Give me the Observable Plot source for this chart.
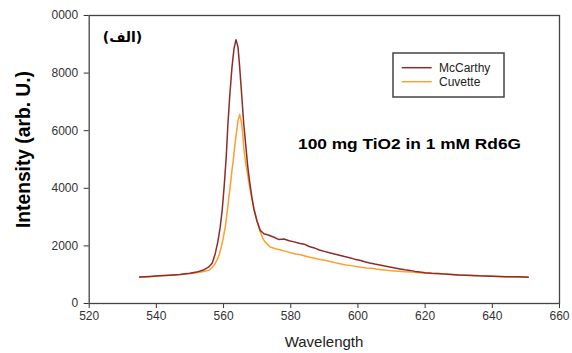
<!DOCTYPE html>
<html>
<head>
<meta charset="utf-8">
<script src="https://cdn.jsdelivr.net/npm/d3@7"></script>
<script src="https://cdn.jsdelivr.net/npm/@observablehq/plot@0.6"></script>
<style>
  html, body { margin: 0; padding: 0; background: #fff; }
  #chart svg { display: block; }
</style>
</head>
<body>
<div id="chart"></div>
<script>
// ---- data ----
const seriesNames = ["McCarthy", "Cuvette"];
const seriesColors = ["#8E2B2B", "#FF9F2E"];

const mcX = [535, 538, 541, 544, 547, 550, 552, 554, 555.5, 556.6, 557.5, 558.3, 559, 559.6, 560.2, 560.8, 561.3, 561.9, 562.5, 563.1, 563.7, 564.3, 564.8, 565.3, 566, 566.6, 567.2, 567.8, 568.4, 569, 569.9, 570.9, 572, 573.5, 575, 576.5, 578, 579.5, 581, 582.5, 584, 585.5, 587, 588.5, 590, 591.5, 593, 594.5, 596, 597.5, 599, 600.5, 602, 603.5, 605, 606.5, 608, 609.5, 611, 612.5, 614, 615.5, 617, 618.5, 620, 622, 624, 626, 628, 630, 632, 634, 636, 638, 640, 642, 644, 646, 648, 650.7];
const mcY = [920, 940, 960, 985, 1010, 1050, 1090, 1160, 1260, 1400, 1720, 2150, 2650, 3250, 4100, 5100, 6250, 7300, 8200, 8850, 9160, 8900, 8200, 7400, 6240, 5500, 4750, 4200, 3700, 3300, 2880, 2540, 2420, 2370, 2300, 2220, 2240, 2180, 2140, 2090, 2060, 1980, 1930, 1860, 1810, 1760, 1720, 1675, 1630, 1590, 1540, 1500, 1450, 1405, 1370, 1340, 1300, 1265, 1230, 1200, 1170, 1150, 1115, 1090, 1070, 1050, 1040, 1020, 1010, 990, 985, 975, 960, 955, 945, 940, 930, 930, 925, 915];

const cuX = [535, 538, 541, 544, 547, 550, 552, 554, 555.6, 556.6, 557.5, 558.2, 558.8, 559.6, 560.5, 561.1, 561.7, 562.1, 562.5, 563, 563.3, 563.8, 564.3, 564.8, 565.3, 565.7, 566, 566.5, 567, 567.6, 568.2, 569, 569.9, 570.9, 571.7, 572.4, 573.9, 575.5, 577, 578.5, 580, 581.5, 583, 584.5, 586, 587.5, 589, 590.5, 592, 593.5, 595, 596.5, 598, 599.5, 601, 602.5, 604, 605.5, 607, 608.5, 610, 612, 614, 616, 618, 620, 622, 624, 626, 628, 630, 632, 634, 636, 638, 640, 642, 644, 646, 648, 650.7];
const cuY = [910, 930, 960, 985, 1005, 1040, 1070, 1110, 1150, 1250, 1380, 1550, 1730, 2100, 2650, 3200, 3800, 4200, 4620, 5100, 5430, 5900, 6350, 6560, 6300, 5900, 5420, 4950, 4600, 4150, 3800, 3300, 2880, 2500, 2250, 2130, 1960, 1900, 1860, 1810, 1760, 1720, 1690, 1640, 1600, 1560, 1520, 1490, 1450, 1410, 1375, 1340, 1315, 1285, 1255, 1235, 1220, 1195, 1175, 1155, 1140, 1120, 1105, 1090, 1070, 1055, 1045, 1030, 1015, 1005, 990, 980, 970, 960, 952, 945, 938, 932, 928, 922, 915];

const xTicks = [520, 540, 560, 580, 600, 620, 640, 660];
const yTicks = [0, 2000, 4000, 6000, 8000, 10000];
const yTickLabels = ["0", "2000", "4000", "6000", "8000", "0000"];

const xLabel = "Wavelength";
const yLabel = "Intensity (arb. U.)";
const annotation = "100 mg TiO2 in 1 mM Rd6G";
const panelTag = "(الف)";

// ---- build table ----
const rows = [
  ...cuX.map((w, i) => ({series: "Cuvette", w, v: cuY[i]})),
  ...mcX.map((w, i) => ({series: "McCarthy", w, v: mcY[i]}))
];

const svg = Plot.plot({
  width: 572,
  height: 353,
  marginLeft: 88.7,
  marginRight: 13,
  marginTop: 15,
  marginBottom: 50,
  style: {fontFamily: "'Liberation Sans', Arial, sans-serif", fontSize: "12px", color: "#333", background: "#fff"},
  x: {domain: [520, 660], ticks: xTicks, tickFormat: d => String(d), tickSize: 5, tickPadding: 3, label: null},
  y: {domain: [0, 10000], ticks: yTicks, tickFormat: d => yTickLabels[yTicks.indexOf(d)], tickSize: 5, tickPadding: 6, label: null},
  color: {domain: seriesNames, range: seriesColors},
  marks: [
    Plot.line(rows, {x: "w", y: "v", z: "series", stroke: "series", strokeWidth: 1.5, curve: "linear"}),
    Plot.frame({stroke: "#444", strokeWidth: 1.3})
  ]
});

document.getElementById("chart").appendChild(svg);

// ---- extra text & legend ----
const s = d3.select(svg);
const font = "'Liberation Sans', Arial, sans-serif";

s.append("text")
  .attr("transform", "translate(29.5,149.5) rotate(-90)")
  .attr("text-anchor", "middle")
  .attr("font-family", font)
  .attr("font-weight", "bold")
  .attr("font-size", 21)
  .attr("fill", "#000")
  .attr("textLength", 157)
  .attr("lengthAdjust", "spacingAndGlyphs")
  .text(yLabel);

s.append("text")
  .attr("x", 324).attr("y", 346.5)
  .attr("text-anchor", "middle")
  .attr("font-family", font)
  .attr("font-size", 15)
  .attr("fill", "#222")
  .text(xLabel);

s.append("text")
  .attr("x", 298).attr("y", 149)
  .attr("text-anchor", "start")
  .attr("font-family", font)
  .attr("font-weight", "bold")
  .attr("font-size", 14)
  .attr("fill", "#000")
  .attr("textLength", 223)
  .attr("lengthAdjust", "spacingAndGlyphs")
  .text(annotation);

s.append("text")
  .attr("x", 122.5).attr("y", 42)
  .attr("text-anchor", "middle")
  .attr("font-family", "'DejaVu Sans', sans-serif")
  .attr("font-weight", "bold")
  .attr("font-size", 14)
  .attr("fill", "#000")
  .text(panelTag);

const lg = s.append("g");
lg.append("rect")
  .attr("x", 393).attr("y", 53).attr("width", 111).attr("height", 44)
  .attr("fill", "#fff").attr("stroke", "#444").attr("stroke-width", 1.5);
seriesNames.forEach((name, i) => {
  const yy = 67.7 + i * 14;
  lg.append("line")
    .attr("x1", 401.7).attr("x2", 431.7).attr("y1", yy).attr("y2", yy)
    .attr("stroke", seriesColors[i]).attr("stroke-width", 1.5);
  lg.append("text")
    .attr("x", 439).attr("y", yy + 4)
    .attr("text-anchor", "start")
    .attr("font-family", font).attr("font-size", 12).attr("fill", "#222")
    .text(name);
});
</script>
</body>
</html>
